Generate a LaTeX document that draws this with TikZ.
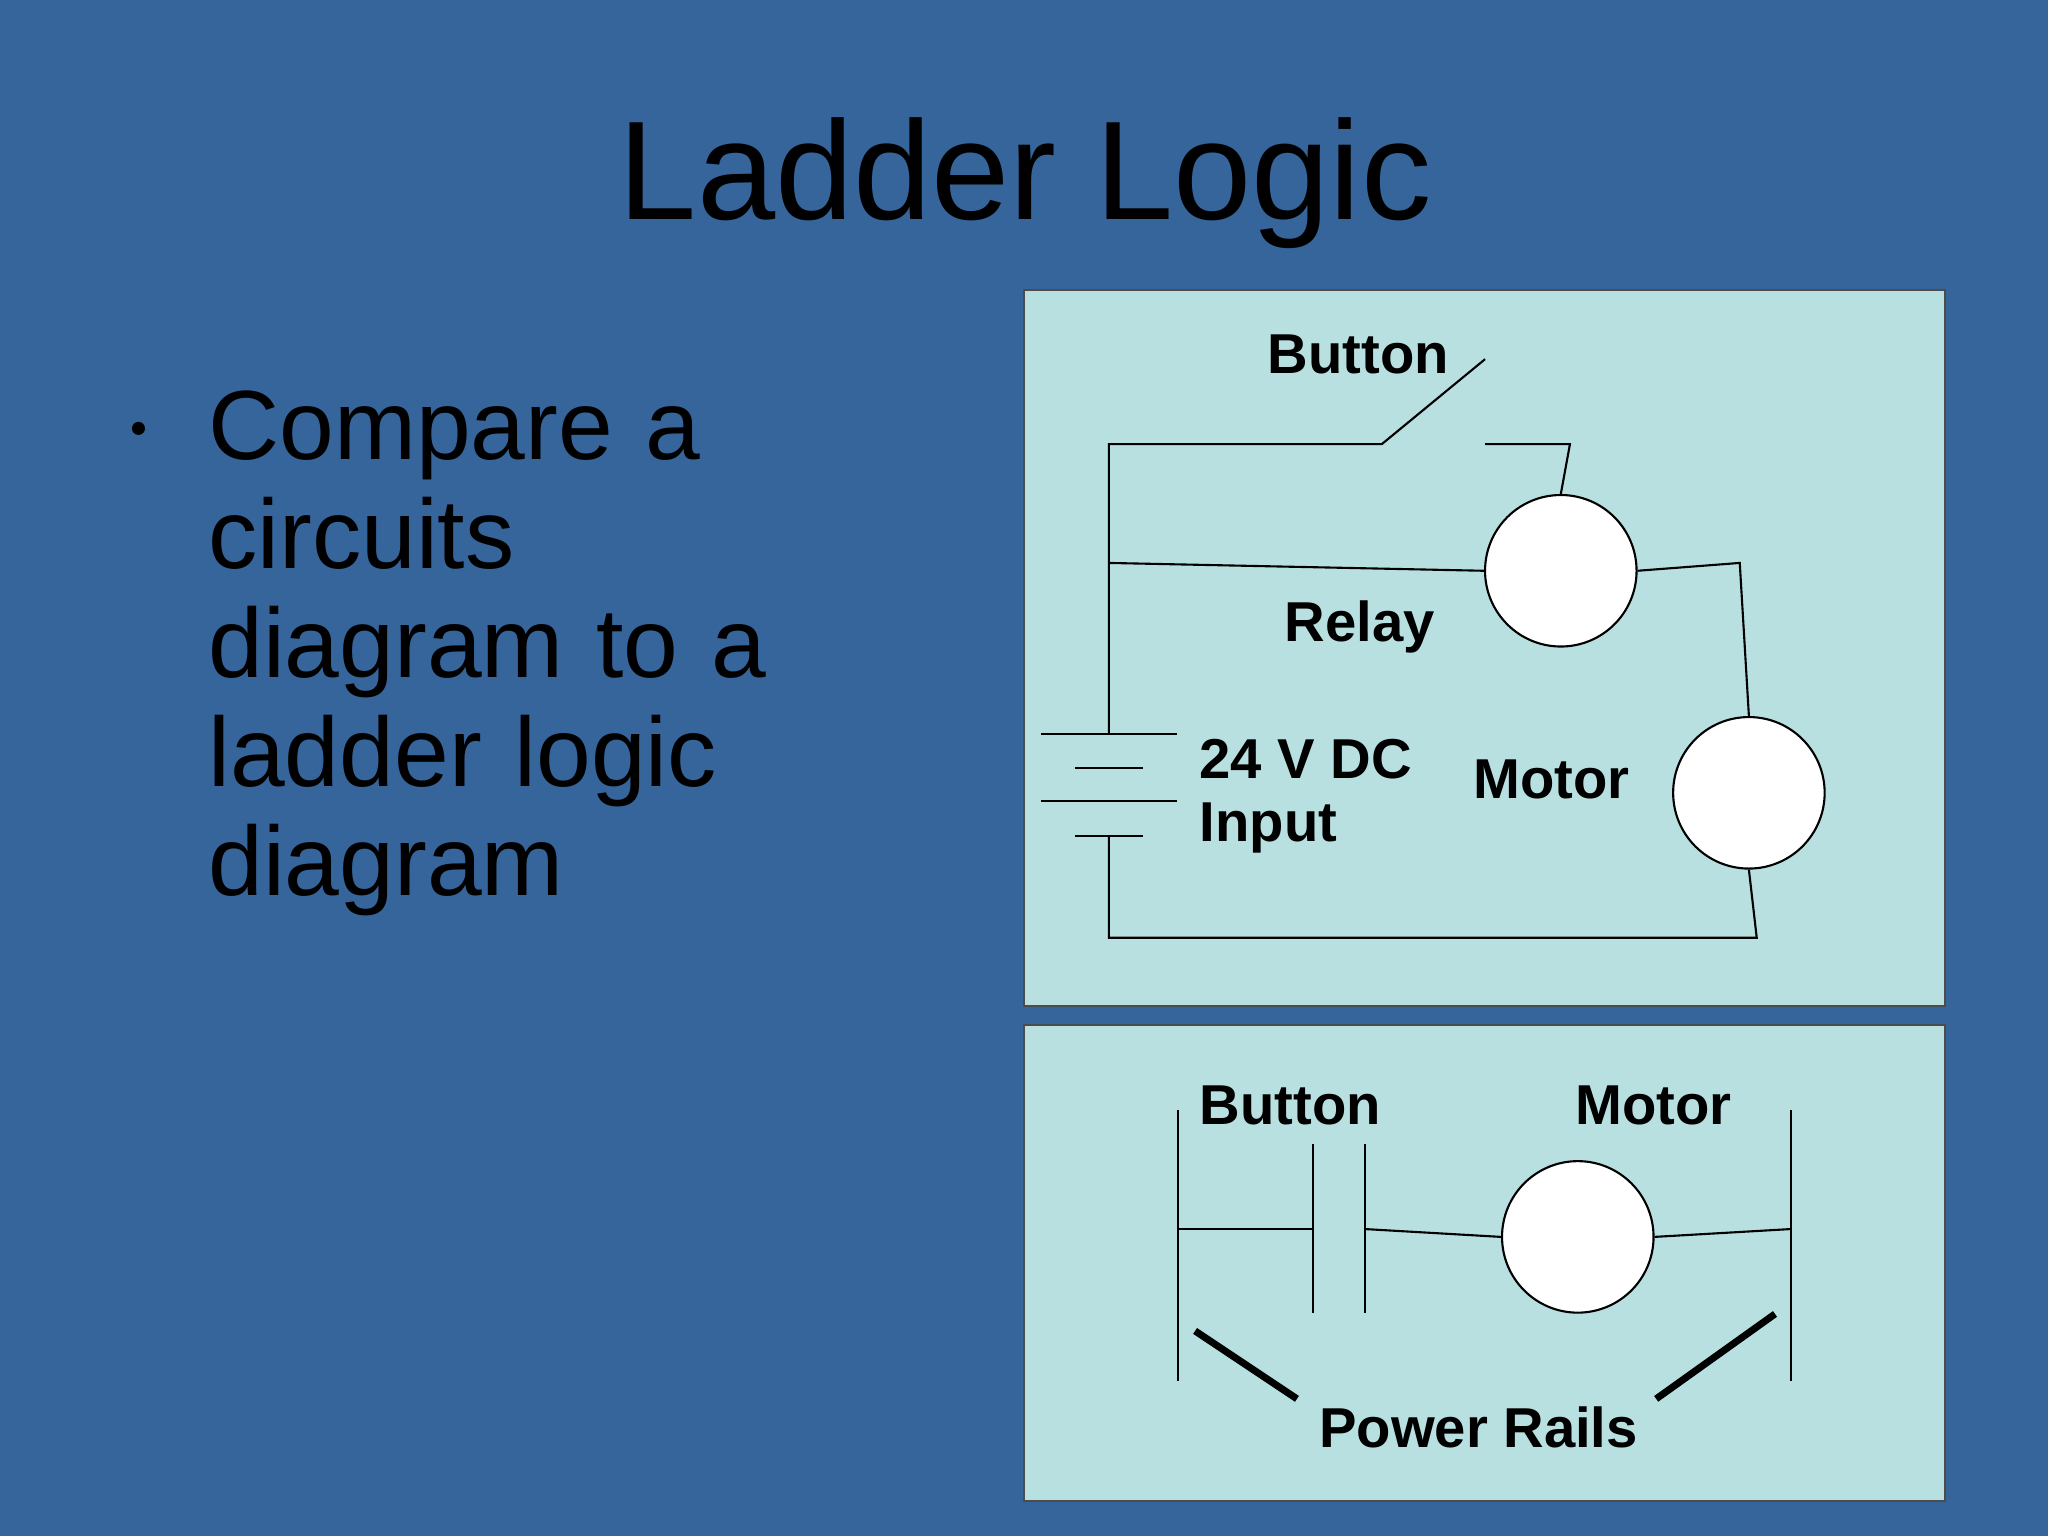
\documentclass[tikz,border=0pt]{standalone}
\usepackage{fontspec}
\setmainfont{Liberation Sans}
\begin{document}
\begin{tikzpicture}[x=0.013061cm,y=-0.013061cm,
  panel/.style={draw=black!70,fill=panelc,line width=0.6pt},
  w/.style={line width=0.6pt},
  lab/.style={font=\fontsize{16}{18}\selectfont\bfseries,inner sep=0pt},
  circ/.style={circle,draw,fill=white,minimum size=116*0.013061cm,inner sep=0pt,line width=0.6pt}]
\definecolor{bg}{HTML}{36659B}
\definecolor{panelc}{HTML}{B9E0E1}
\fill[bg] (0,0) rectangle (1568,1176);
\useasboundingbox (0,0) rectangle (1568,1176);
\node[font=\fontsize{40}{44}\selectfont] (title) at (785,140) {Ladder Logic};
\node[anchor=north west,align=left,text width=7cm,font=\fontsize{28}{31}\selectfont] (txt) at (150,290)
 {Compare a\\circuits\\diagram to a\\ladder logic\\diagram};
\fill (106,328) circle (5);
% top panel
\draw[panel] (784,222) rectangle (1489,770);
\node[circ] (relay) at (1195,437) {};
\node[circ] (motor) at (1339,607) {};
\coordinate (b1) at (849,562); \coordinate (b2) at (849,640);
\draw[w] (b1) -- (849,340) -- (1058,340) -- (1137,275);
\draw[w] (1137,340) -- (1202,340) -- (relay.north);
\draw[w] (849,431) -- (relay.west);
\draw[w] (relay.east) -- (1332,431) -- (motor.north);
\draw[w] (motor.south) -- (1345,718) -- (849,718) -- (b2);
\draw[w] (797,562) -- (901,562); \draw[w] (797,613) -- (901,613);
\draw[w] (823,588) -- (875,588); \draw[w] (823,640) -- (875,640);
\node[lab] (lb) at (1040,271) {Button};
\node[lab] (lr) at (1041,480) {Relay};
\node[lab,anchor=west] (l24) at (918,581) {24 V DC};
\node[lab,anchor=west] (lin) at (918,634) {Input};
\node[lab] (lm) at (1188,597) {Motor};
% bottom panel
\draw[panel] (784,785) rectangle (1489,1149);
\node[circ] (m2) at (1208,947) {};
\draw[w] (902,850) -- (902,1057);
\draw[w] (1371,850) -- (1371,1057);
\draw[w] (902,941) -- (1005,941);
\draw[w] (1005,876) -- (1005,1005);
\draw[w] (1045,876) -- (1045,1005);
\draw[w] (1045,941) -- (m2.west);
\draw[w] (m2.east) -- (1371,941);
\node[lab] (lb2) at (988,846) {Button};
\node[lab] (lm2) at (1266,846) {Motor};
\node[lab] (pr) at (1132,1093) {Power Rails};
\draw[line width=2pt] (915,1019) -- (993,1071);
\draw[line width=2pt] (1359,1006) -- (1268,1071);
\end{tikzpicture}
\end{document}
